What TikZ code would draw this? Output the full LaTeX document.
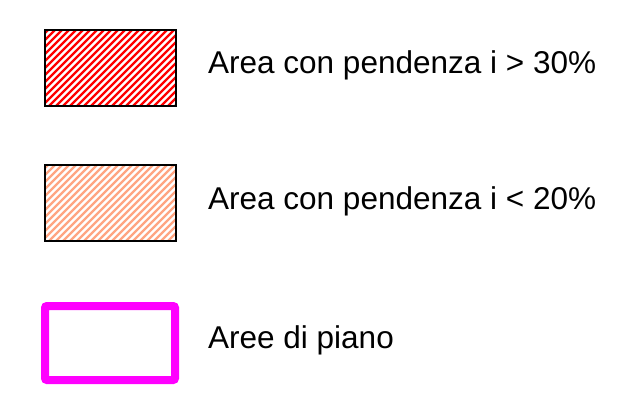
\documentclass[tikz,border=0pt]{standalone}
\usepackage{fontspec}
\setmainfont{Liberation Sans}
\definecolor{hatchred}{RGB}{255,0,0}
\definecolor{hatchsalmon}{RGB}{255,165,130}
\definecolor{planmag}{RGB}{255,0,255}
\begin{document}
\begin{tikzpicture}[x=1pt,y=-1pt,
  frame/.style={draw=black,line width=2pt},
  hatchline/.style={line width=2.3pt},
  legtext/.style={anchor=base west,inner sep=0pt,font=\fontsize{31.5}{38}\selectfont}]
\useasboundingbox (0,0) rectangle (636,398);
% box 1
\begin{scope}
\clip (45,30) rectangle (176,106);
\foreach \k in {-12,...,20}
  \draw[hatchline,hatchred] (45+\k*7,110) -- ++(85,-85);
\end{scope}
\node[frame,minimum width=131pt,minimum height=76pt,inner sep=0pt] (b1) at (110.5,68) {};
% box 2
\begin{scope}
\clip (45,165) rectangle (176,241);
\foreach \k in {-12,...,20}
  \draw[hatchline,hatchsalmon] (45+\k*7,245) -- ++(85,-85);
\end{scope}
\node[frame,minimum width=131pt,minimum height=76pt,inner sep=0pt] (b2) at (110.5,203) {};
% box 3
\node[draw=planmag,line width=8pt,rounded corners=2pt,minimum width=130pt,minimum height=74pt,inner sep=0pt] (b3) at (110,343) {};
% labels
\node[legtext] (t1) at (208,74) {Area con pendenza i > 30\%};
\node[legtext] (t2) at (208,209) {Area con pendenza i < 20\%};
\node[legtext] (t3) at (208,348) {Aree di piano};
\end{tikzpicture}
\end{document}
